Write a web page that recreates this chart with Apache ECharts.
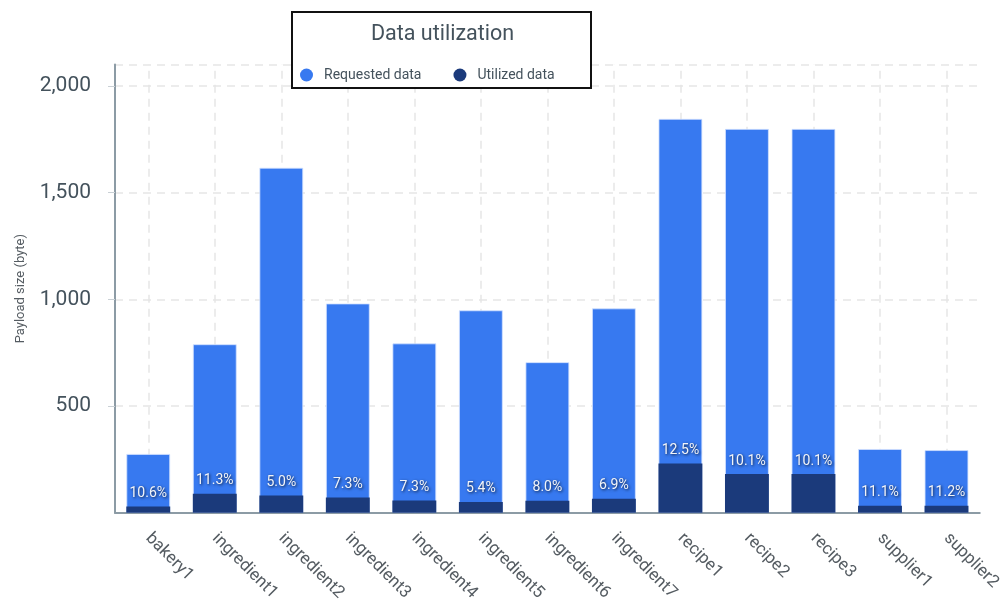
<!DOCTYPE html>
<html>
<head>
<meta charset="utf-8">
<script src="https://cdn.jsdelivr.net/npm/echarts@6/dist/echarts.min.js"></script>
<style>
  html, body { margin: 0; padding: 0; background: #fff; }
  #chart { width: 1004px; height: 604px; }
</style>
</head>
<body>
<div id="chart"></div>
<script>
// Payload sizes (bytes) per endpoint
const categories = ['bakery1', 'ingredient1', 'ingredient2', 'ingredient3', 'ingredient4',
  'ingredient5', 'ingredient6', 'ingredient7', 'recipe1', 'recipe2', 'recipe3',
  'supplier1', 'supplier2'];
const requested = [276, 790, 1617, 981, 794, 949, 706, 958, 1846, 1799, 1799, 299, 294];
const utilized = [29.3, 89.3, 80.9, 71.6, 58.0, 51.2, 56.5, 66.1, 230.8, 181.7, 181.7, 33.2, 32.9];
const yTicks = [0, 500, 1000, 1500, 2000];

const BLUE = '#3779f0';
const NAVY = '#1b3a7b';
const FONT = 'Roboto';

const chart = echarts.init(document.getElementById('chart'));

chart.setOption({
  textStyle: { fontFamily: FONT },
  animation: false,
  grid: { left: 115, right: 24, top: 64.6, bottom: 90, containLabel: false },
  graphic: [{
    type: 'rect',
    z: 10,
    shape: { x: 292, y: 12, width: 299, height: 76 },
    style: { fill: '#fff', stroke: '#111', lineWidth: 2 }
  }],
  title: {
    text: 'Data utilization',
    left: 366, top: 19,
    z: 12,
    textStyle: { fontFamily: FONT, fontSize: 21.5, fontWeight: 'normal', color: '#44525c' }
  },
  legend: {
    left: 295, top: 63, z: 12,
    icon: 'circle', itemWidth: 13, itemHeight: 13, itemGap: 32,
    itemStyle: { borderWidth: 0 },
    textStyle: { fontFamily: FONT, fontSize: 14, color: '#44525c', padding: [0, 0, 0, 6] },
    data: ['Requested data', 'Utilized data']
  },
  xAxis: {
    type: 'category',
    data: categories,
    axisLine: { lineStyle: { color: '#8c9ba5', width: 2 } },
    axisTick: { alignWithLabel: true, length: 8, lineStyle: { color: '#8c9ba5', width: 2 } },
    axisLabel: { rotate: -45, margin: 23, fontSize: 17, color: '#555c62', fontFamily: FONT },
    splitLine: { show: false }
  },
  yAxis: {
    type: 'value',
    min: yTicks[0], max: 2100, interval: 500,
    name: 'Payload size (byte)',
    nameLocation: 'middle', nameGap: 88,
    nameTextStyle: { fontSize: 13, color: '#555c62', fontFamily: FONT },
    axisLine: { show: true, lineStyle: { color: '#8c9ba5', width: 2 } },
    axisTick: { show: true, length: 7, lineStyle: { color: '#c9d0d5', width: 1 } },
    axisLabel: {
      fontSize: 21, color: '#44525c', margin: 24, fontFamily: FONT,
      showMinLabel: false, showMaxLabel: false,
      formatter: v => yTicks.includes(v) ? v.toLocaleString('en-US') : ''
    },
    splitLine: { lineStyle: { color: '#e6e6e6', type: [8, 6], width: 1.5 } }
  },
  series: [
    {
      name: 'Requested data',
      type: 'bar',
      barWidth: '66%',
      itemStyle: { color: BLUE, borderColor: 'rgba(210,225,255,0.8)', borderWidth: 1 },
      data: requested,
      z: 3,
      markLine: {
        silent: true,
        symbol: 'none',
        label: { show: false },
        z: 1,
        lineStyle: { color: '#e6e6e6', type: [8, 6], width: 1.5 },
        data: categories.map(c => ({ xAxis: c }))
      }
    },
    {
      name: 'Utilized data',
      type: 'bar',
      barWidth: '66%',
      barGap: '-100%',
      itemStyle: { color: NAVY },
      data: utilized,
      z: 4,
      label: {
        show: true,
        position: 'top',
        distance: 6,
        fontFamily: FONT,
        fontSize: 14,
        color: '#f2f4f8',
        textShadowColor: 'rgba(0,0,0,0.8)',
        textShadowBlur: 3,
        textShadowOffsetX: 1,
        textShadowOffsetY: 1,
        formatter: p => (utilized[p.dataIndex] / requested[p.dataIndex] * 100).toFixed(1) + '%'
      }
    }
  ]
});
</script>
</body>
</html>
